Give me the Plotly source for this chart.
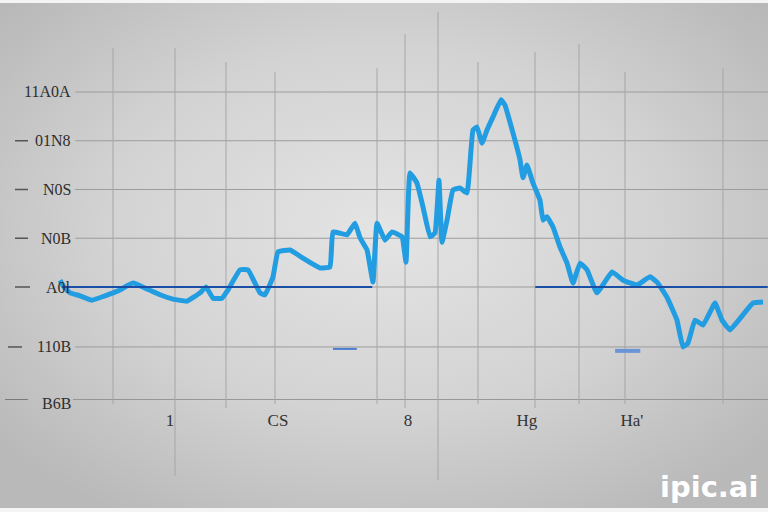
import plotly.graph_objects as go
import urllib.parse

# ---------------- data ----------------
series_x = [0, 0.57, 1.43, 2.86, 4.57, 6.43, 8.29, 10.43, 12.43, 14.29, 16.14, 18.14, 20, 20.86,
            21.86, 23.14, 24, 25.71, 26.86, 28.57, 29.29, 30.43, 31.14, 32.86, 34.71, 37.14, 38.57,
            39, 41, 42.14, 42.86, 43.86, 44.71, 45.29, 46.43, 47.43, 48.86, 49.43, 50, 51, 51.86,
            52.86, 53.57, 54.14, 54.57, 55.29, 56.14, 57.14, 58.14, 59, 59.57, 60.29, 61, 61.86,
            63, 63.57, 64.71, 65.71, 66.14, 66.71, 67.57, 68.57, 69, 69.57, 70.43, 71.43, 72.43,
            73.29, 74.29, 75.29, 76.71, 78.86, 80.43, 82.43, 84.29, 85.29, 86.71, 88.14, 89,
            89.71, 90.71, 91.86, 93.57, 94.57, 95.71, 97.57, 99, 100.43]
series_y = [0.14, 0, -0.12, -0.18, -0.27, -0.18, -0.08, 0.08, -0.04, -0.16, -0.25, -0.29, -0.12, 0,
            -0.23, -0.23, -0.06, 0.35, 0.35, -0.12, -0.16, 0.21, 0.72, 0.76, 0.59, 0.39, 0.41,
            1.13, 1.07, 1.31, 1.01, 0.76, 0.10, 1.31, 0.96, 1.13, 1.03, 0.51, 2.34, 2.13, 1.64,
            1.03, 1.11, 2.19, 0.92, 1.37, 1.99, 2.03, 1.93, 3.22, 3.28, 2.95, 3.22, 3.49,
            3.84, 3.73, 3.16, 2.61, 2.24, 2.50, 2.13, 1.78, 1.37, 1.44, 1.23, 0.82, 0.49,
            0.08, 0.49, 0.35, -0.12, 0.31, 0.14, 0.04, 0.21, 0.10, -0.21, -0.68, -1.23,
            -1.15, -0.68, -0.78, -0.33, -0.68, -0.88, -0.57, -0.33, -0.31]

baseline_a_x = [0.3, 44.6]
baseline_b_x = [67.9, 101.1]
baseline_y = [0, 0]

y_grid_vals = [4, 3, 2, 1, 0, -1.23, -2.32]
y_tick_labels = ["11A0A", "01N8", "N0S", "N0B", "A0l", "110B", "B6B"]

x_grid_vals = [7.57, 16.43, 23.71, 30.71, 45.29, 49.29, 54, 59.71, 67.86, 74.14, 80.71, 94.71]
x_label_vals = [15.71, 31.14, 49.71, 66.71, 81.71]
x_tick_labels = ["1", "CS", "8", "Hg", "Ha'"]

X_MIN, X_MAX = -8.571, 101.143
Y_MIN, Y_MAX = -2.318, 5.887

fig = go.Figure()

# main blue series
fig.add_trace(go.Scatter(x=series_x, y=series_y, mode="lines",
                         line=dict(color="#239de1", width=5, shape="spline", smoothing=0.3),
                         hoverinfo="skip", showlegend=False))
# dark baseline segments
for bx in (baseline_a_x, baseline_b_x):
    fig.add_trace(go.Scatter(x=bx, y=baseline_y, mode="lines",
                             line=dict(color="#1b4fa6", width=2),
                             hoverinfo="skip", showlegend=False))
# small stray dashes
fig.add_trace(go.Scatter(x=[39, 42.4], y=[-1.27, -1.27], mode="lines",
                         line=dict(color="#4a7fd0", width=2), showlegend=False, hoverinfo="skip"))
fig.add_trace(go.Scatter(x=[79.3, 82.9], y=[-1.31, -1.31], mode="lines",
                         line=dict(color="#6b93d8", width=4), showlegend=False, hoverinfo="skip"))

shapes = []
# horizontal gridlines
for v in y_grid_vals[:-1]:
    shapes.append(dict(type="line", xref="paper", yref="y", x0=0.098, x1=1, y0=v, y1=v,
                       line=dict(color="#9c9c9c", width=1), layer="below"))
# bottom axis line
shapes.append(dict(type="line", xref="paper", yref="y", x0=0.095, x1=1, y0=-2.318, y1=-2.318,
                   line=dict(color="#858585", width=1.5), layer="below"))
# vertical gridlines (top in paper coords, bottom slightly past axis)
v_tops = [0.88, 0.88, 0.845, 0.82, 0.83, 0.915, 0.97, 0.845, 0.87, 0.89, 0.82, 0.83]
v_bottoms = [-0.01, -0.19, -0.02, -0.01, -0.01, -0.02, -0.2, -0.01, -0.02, -0.01, -0.01, -0.01]
for xv, yt, yb in zip(x_grid_vals, v_tops, v_bottoms):
    shapes.append(dict(type="line", xref="x", yref="paper", x0=xv, x1=xv, y0=yb, y1=yt,
                       line=dict(color="#a6a6a6", width=1), layer="below"))
# y tick dashes (left of labels)
dash_px = [None, (15, 28), (15, 28), (15, 28), (15, 30), (8, 22), (5, 28)]
for v, d in zip(y_grid_vals, dash_px):
    if d:
        shapes.append(dict(type="line", xref="paper", yref="y", x0=d[0] / 768, x1=d[1] / 768,
                           y0=v, y1=v, line=dict(color="#555555", width=1.5)))

annotations = []
for v, t in zip(y_grid_vals, y_tick_labels):
    if v < Y_MIN:
        annotations.append(dict(xref="paper", yref="paper", x=0.095, y=-0.008,
                                text=t, showarrow=False, xanchor="right", yanchor="middle",
                                font=dict(family="Liberation Serif", size=16, color="#2e2e2e")))
    else:
        annotations.append(dict(xref="paper", yref="y", x=0.095, y=v,
                                text=t, showarrow=False, xanchor="right", yanchor="middle",
                                font=dict(family="Liberation Serif", size=16, color="#2e2e2e")))
annotations.append(dict(xref="paper", yref="paper", x=0.99, y=-0.2175, text="<b>ipic.ai</b>",
                        showarrow=False, xanchor="right", yanchor="middle",
                        font=dict(family="DejaVu Sans", size=29, color="#ffffff")))

svg = ("<svg xmlns='http://www.w3.org/2000/svg' width='768' height='512'>"
       "<defs><radialGradient id='g' cx='50%' cy='45%' r='65%'>"
       "<stop offset='0%' stop-color='#e4e4e4'/><stop offset='55%' stop-color='#d3d3d3'/>"
       "<stop offset='100%' stop-color='#b9b9b9'/></radialGradient></defs>"
       "<rect width='768' height='512' fill='url(#g)'/>"
       "<rect width='768' height='3' fill='#f4f4f4'/>"
       "<rect y='508' width='768' height='4' fill='#f4f4f4'/></svg>")
src = "data:image/svg+xml;charset=utf-8," + urllib.parse.quote(svg)

fig.update_layout(
    width=768, height=512,
    margin=dict(l=0, r=0, t=0, b=112),
    paper_bgcolor="#cfcfcf", plot_bgcolor="rgba(0,0,0,0)",
    shapes=shapes, annotations=annotations,
    images=[dict(source=src, xref="paper", yref="paper", x=0, y=1, sizex=1, sizey=1.28,
                 xanchor="left", yanchor="top", sizing="stretch", layer="below")],
    xaxis=dict(range=[X_MIN, X_MAX], showgrid=False, zeroline=False, showline=False,
               tickvals=x_label_vals, ticktext=x_tick_labels, ticks="",
               ticklabelstandoff=8,
               tickfont=dict(family="Liberation Serif", size=17, color="#333333")),
    yaxis=dict(range=[Y_MIN, Y_MAX], showgrid=False, zeroline=False, showline=False,
               showticklabels=False),
)

fig.write_html("out.html", config={"displayModeBar": False},
               post_script="document.body.style.margin='0';")
